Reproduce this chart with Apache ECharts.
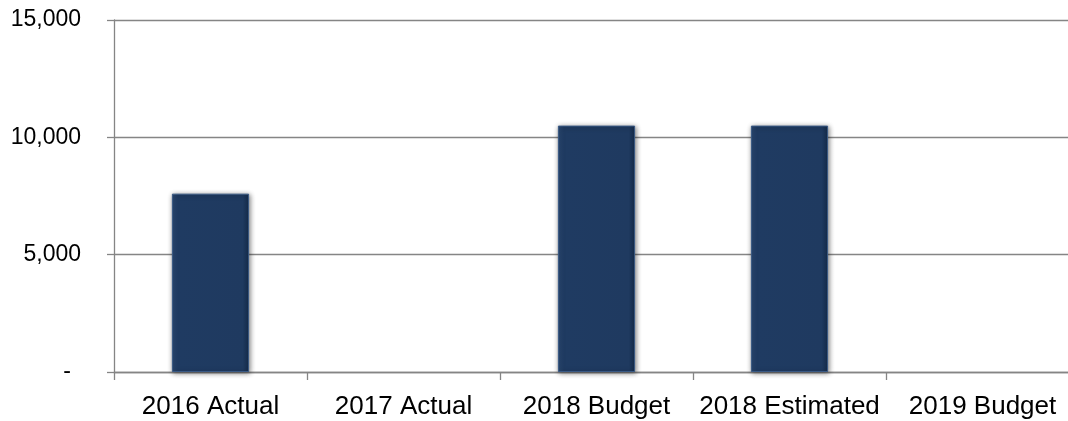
<!DOCTYPE html>
<html>
<head>
<meta charset="utf-8">
<script src="https://cdn.jsdelivr.net/npm/echarts@6/dist/echarts.min.js"></script>
<style>
html,body{margin:0;padding:0;background:#fff;}
#c{width:1068px;height:421px;}
</style>
</head>
<body>
<div id="c"></div>
<script>
var categories = ['2016 Actual', '2017 Actual', '2018 Budget', '2018 Estimated', '2019 Budget'];
var values = [7600, null, 10500, 10500, null];
var yMin = 0, yMax = 15000, yInterval = 5000;

var chart = echarts.init(document.getElementById('c'), null, {renderer: 'canvas'});
chart.setOption({
  animation: false,
  backgroundColor: '#ffffff',
  grid: {left: 114, top: 20, bottom: 49, width: 965, containLabel: false, outerBoundsMode: 'none'},
  xAxis: {
    type: 'category',
    data: categories,
    axisLine: {lineStyle: {color: '#858585', width: 1.3}},
    axisTick: {show: true, length: 8, lineStyle: {color: '#858585', width: 1.3}},
    axisLabel: {color: '#000', fontFamily: 'Liberation Sans', fontSize: 26, margin: 22, interval: 0}
  },
  yAxis: {
    type: 'value',
    min: yMin, max: yMax, interval: yInterval,
    axisLine: {show: true, lineStyle: {color: '#858585', width: 1.3}},
    axisTick: {show: true, length: 7, lineStyle: {color: '#858585', width: 1.3}},
    splitLine: {lineStyle: {color: '#858585', width: 1.3}},
    axisLabel: {
      color: '#000', fontFamily: 'Liberation Sans', fontSize: 23, margin: 33,
      formatter: function (v) { return v === 0 ? '{d|-}' : v.toLocaleString('en-US'); },
      rich: {d: {fontFamily: 'Liberation Sans', fontSize: 23, color: '#000', padding: [0, 10, 0, 0]}}
    }
  },
  series: [{
    type: 'bar',
    data: values,
    barWidth: '40%',
    itemStyle: {
      color: new echarts.graphic.LinearGradient(0, 0, 1, 0, [
        {offset: 0, color: '#2b4a74'},
        {offset: 0.08, color: '#1f3b62'},
        {offset: 0.92, color: '#1f3a60'},
        {offset: 1, color: '#152c4b'}
      ]),
      borderColor: '#3a5a85',
      borderWidth: 1,
      shadowColor: 'rgba(0,0,0,0.45)',
      shadowBlur: 5,
      shadowOffsetX: 1,
      shadowOffsetY: 1
    }
  }]
});
</script>
</body>
</html>
